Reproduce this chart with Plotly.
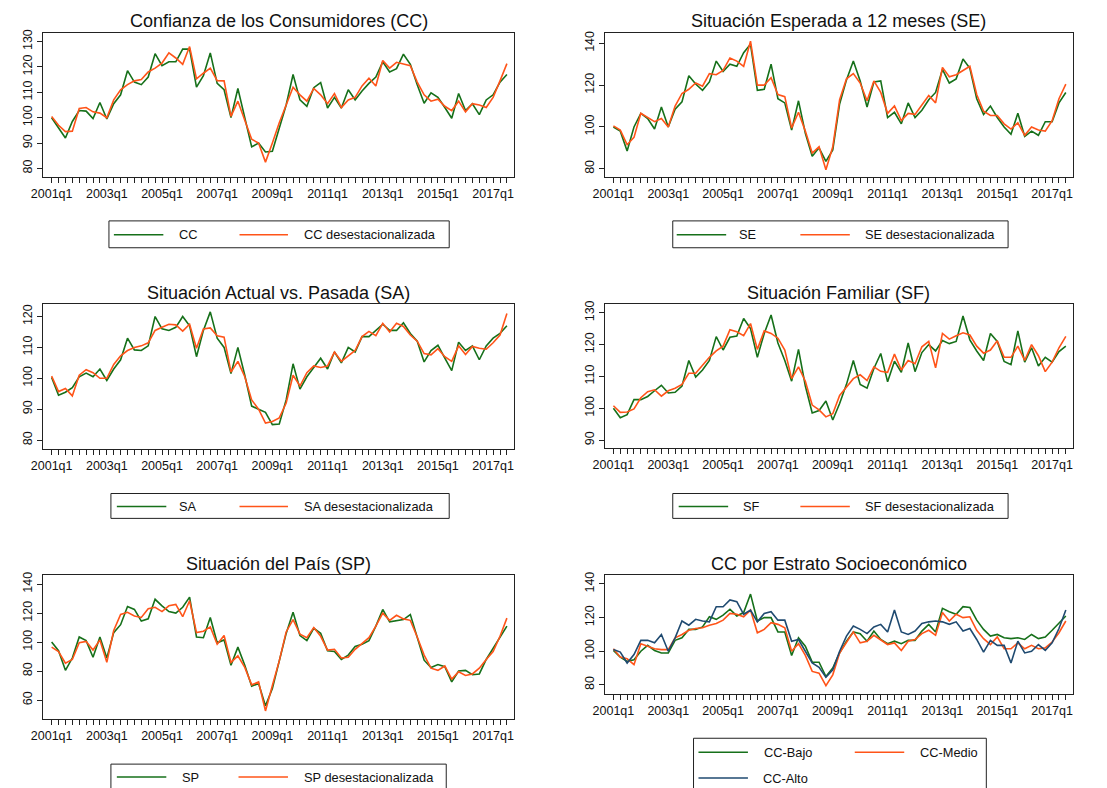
import plotly.graph_objects as go

W, H = 1107, 788

quarters = [f"{y}q{q}" for y in range(2001, 2018) for q in range(1, 5)][:67]
tick_labels = ["2001q1", "2003q1", "2005q1", "2007q1", "2009q1", "2011q1", "2013q1", "2015q1", "2017q1"]

cc = [100, 96, 92, 98.5, 102.8, 102.6, 99.7, 106, 99.5, 105.5, 109, 118.5, 114, 113, 116, 125.2, 120.5, 122, 122, 127,
      127, 112, 116.5, 125.5, 113.5, 111, 100, 111.5, 100, 88.5, 90, 86.5, 86.8, 96, 105, 117, 107, 104.5, 111.8, 113.8,
      103.8, 108, 103.8, 111, 107, 110.5, 113.5, 116, 122, 118, 119.3, 125, 121, 113, 105.7, 109.8, 108, 104, 99.8, 109.5,
      102.8, 105.5, 101.2, 107, 109, 114, 117]
cc_sa = [100.5, 97, 94.5, 94.7, 103.6, 104, 102.3, 101.8, 100, 107, 111, 113, 114.5, 115, 118, 119.5, 121.5, 125.5, 123.5, 121,
         128, 115.3, 117.5, 119.5, 114.6, 114.5, 100.5, 106.5, 99, 91.5, 90, 82.5, 90, 98, 105, 112, 109, 106.5, 111.5, 109,
         105.5, 109.5, 104, 107, 108, 112.5, 115.5, 112.5, 122.5, 119.5, 121.8, 121, 120.5, 114, 109, 106.5, 107.3, 104.5, 102.8, 106.5,
         102.3, 105.5, 105, 104, 108, 114.5, 121.3]

se = [100, 98, 88.5, 100, 106.5, 104, 99, 109.5, 100, 108.5, 112, 124.5, 120.5, 117.5, 121.5, 131.5, 126.5, 130, 129, 135.5,
      139.5, 117.5, 118, 130, 113.5, 111.5, 98.5, 112.5, 97, 86, 90, 83.5, 89, 111, 122.5, 131.5, 122, 109.5, 121.5, 122,
      104.5, 107, 101.5, 111.5, 104.5, 108, 113, 116.5, 127.5, 121, 123, 132.5, 128, 113.5, 106, 110, 104.5, 100, 96.5, 106.5,
      95.5, 98, 96, 102.5, 102.5, 111.5, 116.5]
se_sa = [100.5, 98.5, 91.5, 95, 106.5, 104.5, 102.5, 104, 100, 110, 116, 118, 121, 119.5, 125.5, 125, 127, 133, 131.5, 129,
         141, 120, 120, 123.5, 115.5, 114.5, 99.5, 107, 98, 87.5, 90.5, 79.5, 90.5, 113, 123, 125.5, 121, 112.5, 122, 116.5,
         106.5, 110, 103, 106.5, 106, 110.5, 115, 111.5, 128.5, 124, 125, 127, 129, 115.5, 107.5, 105.5, 105.5, 101.5, 99, 102,
         96, 100, 98.5, 98, 103, 113.5, 120.5]

sa = [100.3, 94.5, 95.5, 97, 100.5, 101.7, 100.5, 103, 99.3, 103, 106, 113, 109.2, 109, 110.5, 120, 116, 115.5, 116.5, 120,
      117, 107, 115.5, 121.5, 113, 110, 101.5, 110, 101, 91, 90, 89, 85, 85.2, 93, 104.7, 96.5, 100.5, 103.5, 106.5,
      103, 108.5, 105, 110, 108.5, 113.5, 113.5, 115.5, 117.5, 115.5, 115.5, 118, 114.5, 112, 105.3, 109, 110.7, 106.5, 102.5, 111.7,
      109, 110.5, 106, 110.5, 113, 114.5, 117]
sa_sa = [100.7, 95.7, 96.7, 94.3, 101, 102.8, 101.8, 100, 100, 104.5, 107.3, 109, 110, 110.5, 111.5, 115.5, 116.5, 117.5, 117.3, 115.3,
         117.5, 109.7, 116, 116.3, 113.8, 113.3, 102, 105.5, 100.5, 93, 90, 85.5, 86, 87.2, 92, 101, 97.5, 101.8, 104, 103.5,
         104, 108.5, 105.5, 107.3, 109, 113.5, 115.2, 113.8, 117.8, 115, 117.8, 116.8, 114, 112, 108, 107.6, 109.6, 107, 105.5, 110.5,
         107.7, 110.3, 109.7, 109.4, 111.5, 114, 121]

sf = [100, 97, 98, 102.7, 102.7, 103.7, 105.5, 107.2, 104.8, 105, 107, 115, 109.8, 112, 115, 122.5, 118.3, 122.3, 122.7, 128.2,
      125, 116, 123.5, 129.3, 120.5, 115, 108.5, 118.5, 107, 98.5, 99.3, 102.3, 96.3, 101.5, 107.5, 115, 107.5, 106.3, 112.5, 117.2,
      108.3, 114.8, 111.3, 120.5, 111.5, 117.5, 120, 118, 121.3, 120.3, 121, 129, 121.5, 118, 115, 123.5, 121, 114.7, 113.7, 124.3,
      114.5, 119, 113.3, 116, 114.5, 117.8, 119.5]
sf_sa = [100.8, 98.7, 98.8, 99.8, 103.3, 105.2, 105.8, 103.8, 105.5, 106.3, 107.5, 111, 111, 113.5, 116, 118, 119.5, 124.7, 124, 122.8,
         126.6, 118.5, 124.3, 123.5, 122, 118.3, 109.3, 113, 108.5, 101, 99.5, 97.3, 98.3, 104, 106.5, 109.3, 110.5, 108.7, 113, 111.6,
         111.3, 117, 112, 115, 114, 119.3, 121, 112.7, 123.5, 121.7, 122.8, 123.7, 123, 119.5, 117.3, 118.3, 121.2, 116, 116, 119.5,
         115, 120, 116.5, 111.5, 114.5, 119, 122.6]

sp = [100, 94, 80.5, 89, 103.5, 101, 89.5, 103.5, 89, 106.5, 112, 124.5, 122.5, 114.5, 116, 129.5, 125, 121, 120, 124,
      131, 103.5, 103, 117, 99.5, 101.5, 84, 96.5, 84, 69.5, 71.5, 56, 68, 86, 106, 120.5, 104.5, 101, 109.5, 106,
      94, 93.5, 88, 91, 97, 98.5, 101, 111, 122.5, 114, 115, 115.5, 119, 103, 87.5, 82.5, 84.5, 83, 72.5, 80,
      80.5, 77.5, 78, 88, 96, 104, 111]
sp_sa = [96.5, 93.5, 85.5, 88, 99.5, 100.5, 94.5, 101.5, 86, 108, 119, 120.5, 118, 117, 123, 124, 121, 125, 126, 117.5,
         128.5, 106.5, 107.5, 110.5, 98.5, 104.5, 86, 90.5, 82.5, 70.5, 72.5, 52.5, 70, 87, 107, 115.5, 105.5, 103, 110, 104,
         94.5, 95, 89, 89.5, 95, 99, 103, 111, 120, 115, 118.5, 116, 115, 103.5, 91, 82, 80.5, 83.5, 74.5, 79.5,
         77, 78, 82, 88, 93.5, 104, 116.5]

cc_bajo = [100.5, 96.5, 94, 95, 100, 103.5, 100.5, 99, 99, 106.5, 108, 113, 113, 114.5, 120.5, 119, 121.5, 125, 121, 123,
           134, 118, 120, 120, 111.5, 111.5, 97.5, 108, 103, 93.5, 93.5, 85, 90, 99, 106, 111.5, 110.5, 106, 112, 107,
           104.5, 106, 104.5, 106.5, 106.5, 112, 116, 111.5, 125.5, 123.5, 122, 126.5, 126, 118.5, 113, 109, 110, 108, 107.5, 108,
           107, 110, 107.5, 108.5, 112.5, 117, 121]
cc_medio = [101.5, 96.5, 95.5, 92, 104.5, 103, 101.5, 101, 101, 108, 110, 112.5, 113.5, 114, 115.5, 116.5, 118.5, 122.5, 122, 120.5,
            124.5, 111, 113, 117, 116, 114, 100, 104.5, 97.5, 88, 87, 79.5, 86, 99, 105, 111.5, 105, 106, 109.5, 107,
            104, 105, 100.5, 106, 107, 110.5, 112.5, 109.5, 123, 118, 122, 120, 120.5, 112.5, 107.5, 104, 108.5, 101.5, 101.5, 105,
            101.5, 103.5, 101.5, 102, 105.5, 111, 118]
cc_alto = [101, 99.5, 93, 98, 106.5, 106.5, 105, 110, 100, 108, 118, 115.5, 119, 118, 117.5, 126.5, 126.5, 130.5, 129.5, 122,
           124.5, 117.5, 122.5, 123.5, 118.5, 118.5, 106, 107, 100, 93, 90.5, 84.5, 89, 100, 109, 115, 113, 110.5, 114.5, 116,
           111.5, 124.5, 111.5, 110, 112, 116.5, 117.5, 118, 117.5, 116, 117.5, 112, 113.5, 107, 99.5, 106.5, 103.5, 103.5, 93, 106,
           99, 100, 104, 100.5, 105, 113.5, 124.5]

GREEN = "#16701a"
ORANGE = "#ff5419"
BLUE = "#1f4a70"
FONT = "Liberation Sans, Arial, sans-serif"

panels = [
    dict(title="Confianza de los Consumidores (CC)", box=(31, 508, 29, 174), title_y=17,
         series=[("CC", cc, GREEN), ("CC desestacionalizada", cc_sa, ORANGE)],
         yrange=[76.6, 133.4], yticks=[80, 90, 100, 110, 120, 130]),
    dict(title="Situación Esperada a 12 meses (SE)", box=(599, 1073, 29, 174), title_y=17,
         series=[("SE", se, GREEN), ("SE desestacionalizada", se_sa, ORANGE)],
         yrange=[76.0, 145.0], yticks=[80, 100, 120, 140]),
    dict(title="Situación Actual vs. Pasada (SA)", box=(31, 508, 302, 447), title_y=290,
         series=[("SA", sa, GREEN), ("SA desestacionalizada", sa_sa, ORANGE)],
         yrange=[77.2, 123.9], yticks=[80, 90, 100, 110, 120]),
    dict(title="Situación Familiar (SF)", box=(599, 1073, 302, 446), title_y=290,
         series=[("SF", sf, GREEN), ("SF desestacionalizada", sf_sa, ORANGE)],
         yrange=[87.6, 132.6], yticks=[90, 100, 110, 120, 130]),
    dict(title="Situación del País (SP)", box=(31, 508, 574, 719), title_y=563,
         series=[("SP", sp, GREEN), ("SP desestacionalizada", sp_sa, ORANGE)],
         yrange=[46.7, 146.2], yticks=[60, 80, 100, 120, 140]),
    dict(title="CC por Estrato Socioeconómico", box=(599, 1073, 574, 694), title_y=563,
         series=[("CC-Bajo", cc_bajo, GREEN), ("CC-Medio", cc_medio, ORANGE), ("CC-Alto", cc_alto, BLUE)],
         yrange=[74.3, 145.3], yticks=[80, 100, 120, 140]),
]

# legend layouts: box (l, r, t, b) and entries (x0, x1, y, text_center_x)
legends = [
    dict(box=(98, 442, 218, 245), items=[(103, 153, 232, 178), (230, 279, 232, 362)]),
    dict(box=(668, 1007, 218, 245), items=[(672, 722, 232, 744), (797, 847, 232, 928)]),
    dict(box=(100, 442, 492, 517), items=[(106, 156, 505, 178), (230, 279, 505, 361)]),
    dict(box=(668, 1007, 492, 517), items=[(674, 724, 505, 748), (797, 847, 505, 928)]),
    dict(box=(100, 439, 764, 800), items=[(106, 156, 777, 180), (229, 279, 777, 361)]),
    dict(box=(689, 985, 738, 800), items=[(694, 744, 752, 784), (852, 902, 752, 947), (694, 744, 778, 782)]),
]

def fx(p):
    return p / W

def fy(p):
    return 1 - p / H

fig = go.Figure()
shapes = []
annotations = []
tickvals = list(range(len(quarters)))
ticktext = [q if q in tick_labels else "" for q in quarters]

for k, pan in enumerate(panels, start=1):
    l, r, t, b = pan["box"]
    xa = "x" if k == 1 else f"x{k}"
    ya = "y" if k == 1 else f"y{k}"
    for name, vals, col in pan["series"]:
        fig.add_trace(go.Scatter(x=list(range(len(vals))), y=vals, mode="lines", name=name,
                                 line=dict(color=col, width=1.6), xaxis=xa, yaxis=ya,
                                 showlegend=False))
    fig.update_layout(**{
        ("xaxis" if k == 1 else f"xaxis{k}"): dict(
            domain=[fx(l), fx(r)], anchor=ya, range=[-1.3, 67.1],
            tickmode="array", tickvals=tickvals, ticktext=ticktext,
            ticks="outside", ticklen=5, tickwidth=1, tickcolor="#222",
            showline=True, linecolor="#222", linewidth=1, mirror=True,
            showgrid=False, zeroline=False, tickangle=0,
            tickfont=dict(family=FONT, size=12.5, color="#111")),
        ("yaxis" if k == 1 else f"yaxis{k}"): dict(
            domain=[fy(b), fy(t)], anchor=xa, range=pan["yrange"],
            tickmode="array", tickvals=pan["yticks"],
            ticks="outside", ticklen=5, tickwidth=1, tickcolor="#222",
            showline=True, linecolor="#222", linewidth=1, mirror=True,
            showgrid=False, zeroline=False, tickangle=-90,
            tickfont=dict(family=FONT, size=12.5, color="#111")),
    })
    annotations.append(dict(text=pan["title"], x=fx((l + r) / 2), y=fy(pan["title_y"]),
                            xref="paper", yref="paper", showarrow=False,
                            xanchor="center", yanchor="middle",
                            font=dict(family=FONT, size=18, color="#111")))
    lg = legends[k - 1]
    bl, br, bt, bb = lg["box"]
    shapes.append(dict(type="rect", xref="paper", yref="paper",
                       x0=fx(bl), x1=fx(br), y0=fy(bb), y1=fy(bt),
                       line=dict(color="#222", width=1), fillcolor="white", layer="below"))
    for (x0, x1, yy, tc), (name, vals, col) in zip(lg["items"], pan["series"]):
        shapes.append(dict(type="line", xref="paper", yref="paper",
                           x0=fx(x0), x1=fx(x1), y0=fy(yy), y1=fy(yy),
                           line=dict(color=col, width=1.6)))
        annotations.append(dict(text=name, x=fx(tc), y=fy(yy), xref="paper", yref="paper",
                                showarrow=False, xanchor="center", yanchor="middle",
                                font=dict(family=FONT, size=12.8, color="#111")))

fig.update_layout(width=W, height=H, margin=dict(l=0, r=0, t=0, b=0),
                  paper_bgcolor="white", plot_bgcolor="white",
                  shapes=shapes, annotations=annotations, showlegend=False)

fig.write_html("out.html", config={"displayModeBar": False},
               post_script="document.body.style.margin='0';document.body.style.overflow='hidden';")
